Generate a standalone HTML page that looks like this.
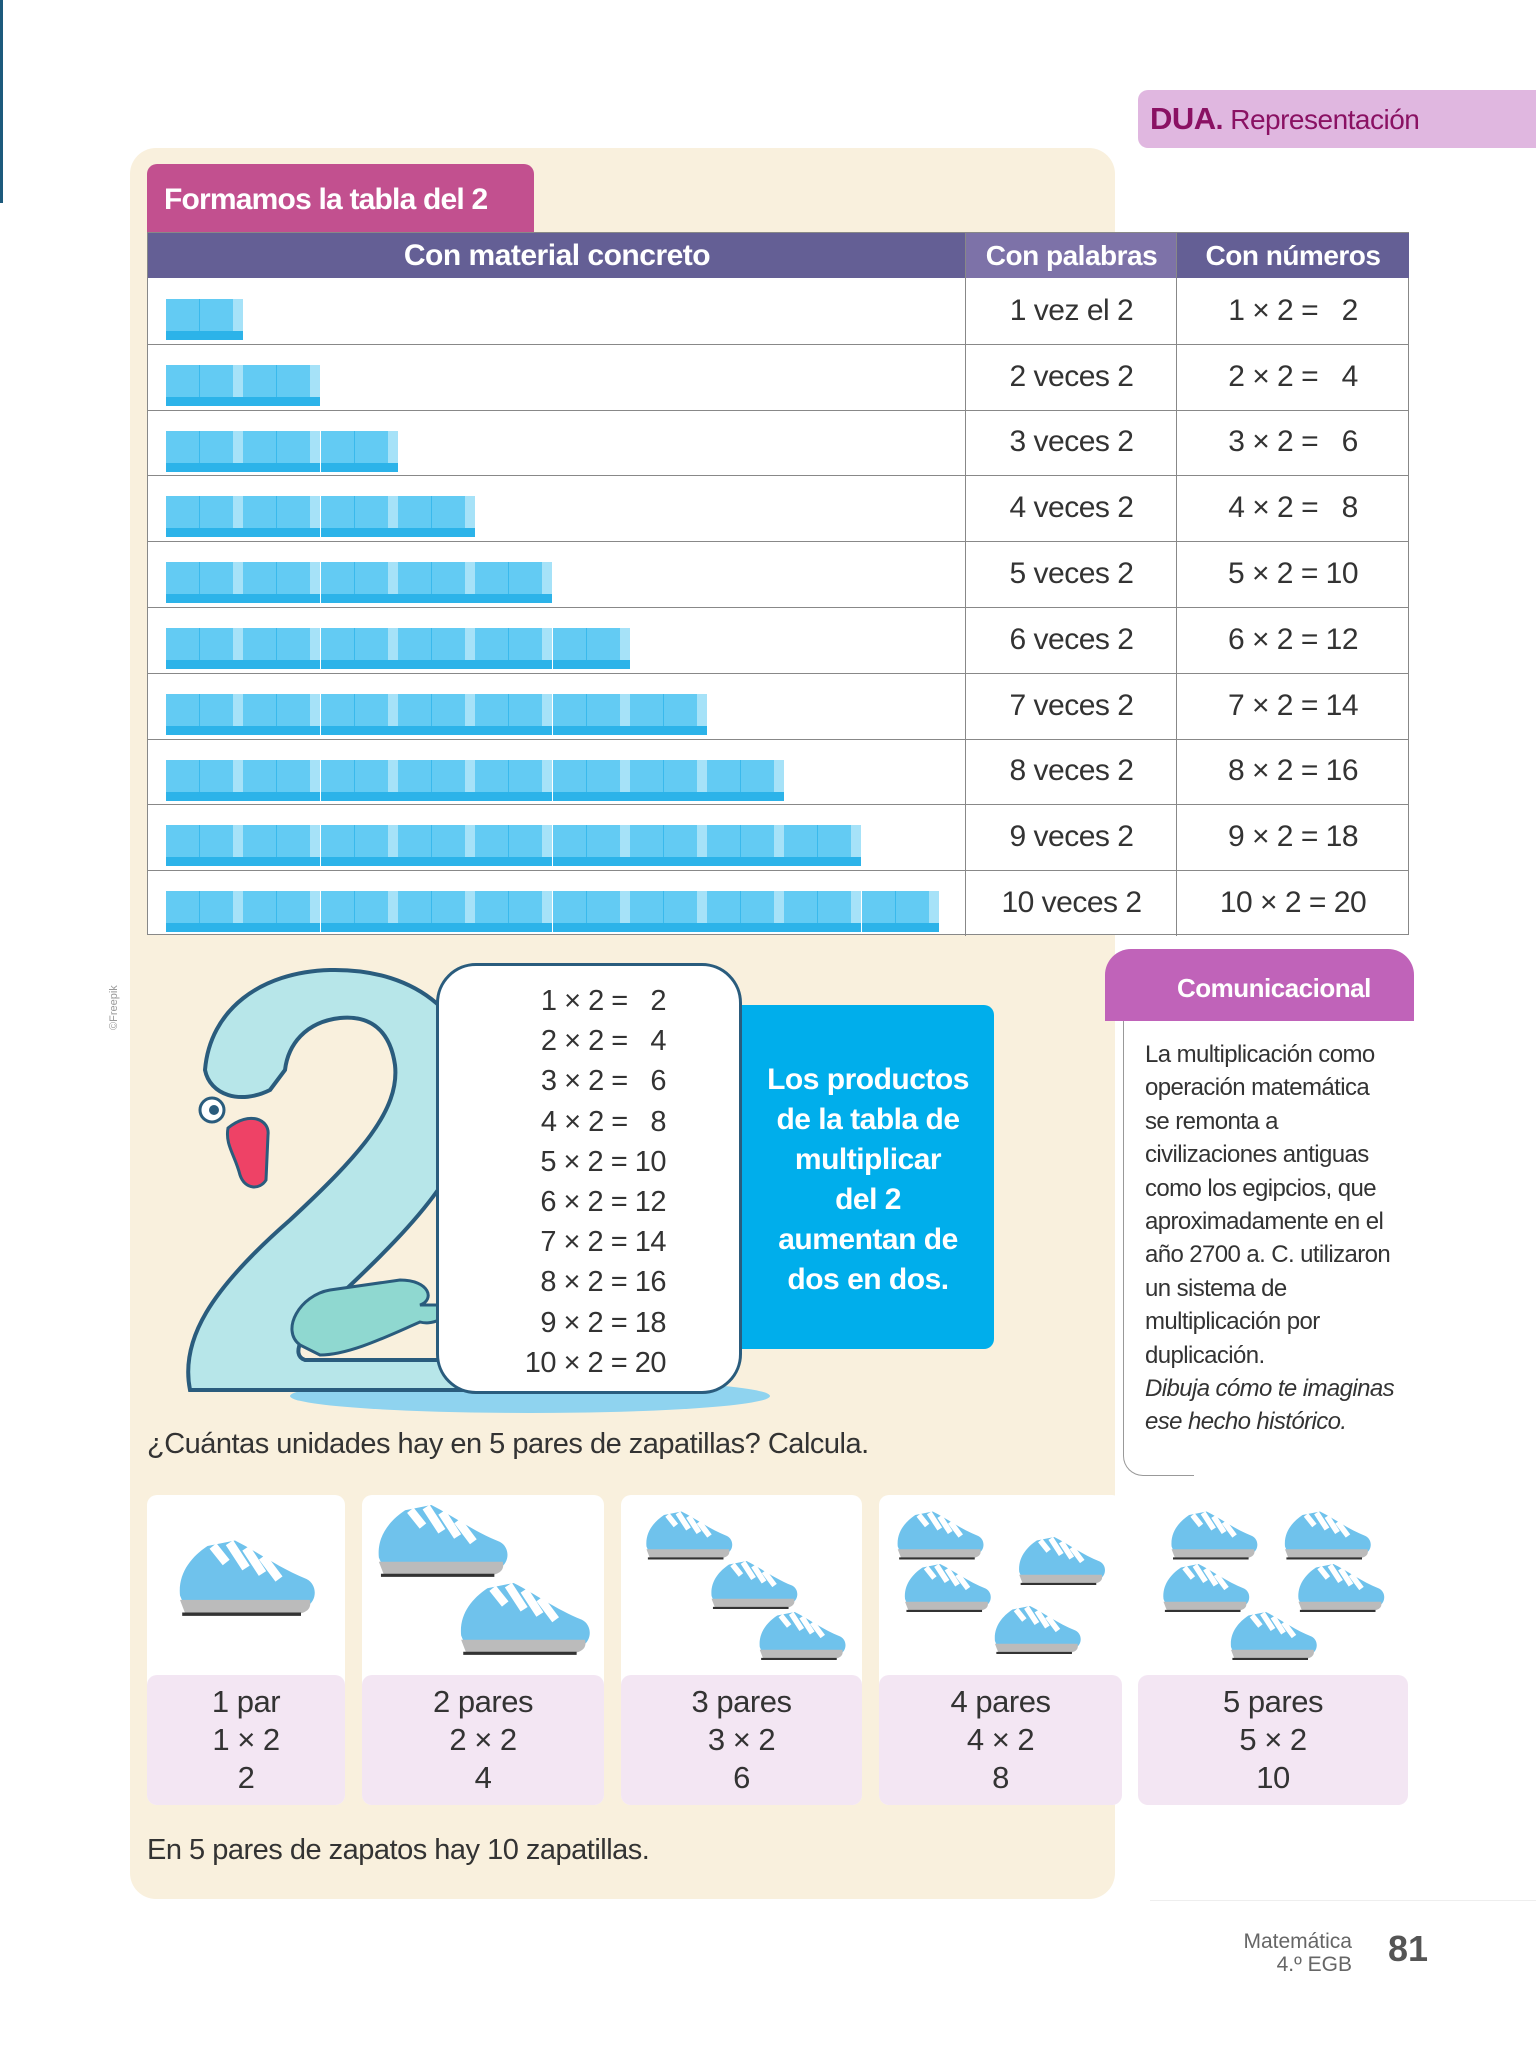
<!DOCTYPE html>
<html><head><meta charset="utf-8">
<style>
body{margin:0;width:1536px;height:2048px;background:#fff;position:relative;overflow:hidden;font-family:"Liberation Sans Narrow","Liberation Sans",sans-serif;color:#333}
.abs{position:absolute}
.cell{position:absolute;display:flex;align-items:center;justify-content:center;font-size:30px;color:#333;white-space:nowrap;letter-spacing:-0.5px}
.card{position:absolute;background:#fff;border-radius:10px}
.lab{position:absolute;background:#f3e6f3;border-radius:10px;text-align:center;font-size:31px;line-height:38px;color:#333;padding-top:8px;box-sizing:border-box;letter-spacing:-0.5px}
.com p{margin:0}
</style></head><body>
<div class="abs" style="left:0;top:0;width:3px;height:203px;background:#1d5a7c"></div>
<div class="abs" style="left:1138px;top:90px;width:398px;height:58px;background:#e0b7e0;border-radius:10px 0 0 10px;font-size:28px;line-height:58px;padding-left:12px;color:#8a1163;box-sizing:border-box;letter-spacing:-0.5px;white-space:nowrap"><b style="font-size:31px">DUA</b><b>.</b> Representación</div>
<div class="abs" style="left:130px;top:148px;width:985px;height:1751px;background:#f9f0dd;border-radius:26px"></div>
<div class="abs" style="left:147px;top:164px;width:387px;height:70px;background:#c2508f;border-radius:10px 10px 0 0;color:#fff;font-weight:bold;font-size:30px;line-height:72px;padding-left:17px;box-sizing:border-box;white-space:nowrap;letter-spacing:-0.8px">Formamos la tabla del 2</div>
<div class="abs" id="table" style="left:147px;top:232px;width:1262px;height:703px;background:#fff;border:1px solid #888;box-sizing:border-box">
<div class="abs" style="left:0;top:0;width:1261px;height:45px;background:#645f95"></div>
<div class="cell" style="left:0;top:0;width:818px;height:45px;color:#fff;font-weight:bold">Con material concreto</div>
<div class="cell" style="left:818px;top:0;width:211px;height:45px;color:#fff;font-weight:bold;background:#7d72a8;font-size:28px">Con palabras</div>
<div class="cell" style="left:1029px;top:0;width:232px;height:45px;color:#fff;font-weight:bold;font-size:28px">Con números</div>
<div class="abs" style="left:817px;top:0;width:1px;height:703px;background:#888"></div>
<div class="abs" style="left:1028px;top:0;width:1px;height:703px;background:#888"></div>
</div>

<svg class="abs" style="left:170px;top:960px" width="600" height="460" viewBox="0 0 600 460">
<ellipse cx="360" cy="436" rx="240" ry="17" fill="#8fd3ef"/>
<path d="M20,430 C10,380 40,330 120,260 C190,195 230,150 225,105 C220,70 200,55 170,58 C135,62 118,85 115,110 L100,130 C70,145 40,135 35,110 C40,50 90,12 160,10 C250,8 305,60 305,130 C305,200 250,260 170,335 C130,372 120,395 135,400 L290,400 C300,390 300,360 296,350 L296,430 Z" fill="#b7e6e9" stroke="#2a5c7d" stroke-width="4"/>
<circle cx="42" cy="150" r="12" fill="#fff" stroke="#2a5c7d" stroke-width="3"/>
<circle cx="44" cy="150" r="5" fill="#2a5c7d"/>
<path d="M58,168 C80,150 100,160 98,175 L96,220 C90,230 75,230 70,215 C65,195 55,185 58,168 Z" fill="#ee4266" stroke="#2a5c7d" stroke-width="3"/>
<path d="M130,385 C110,370 130,335 160,330 L230,320 C260,320 265,340 250,345 L275,345 C280,360 260,365 250,362 C220,375 180,395 150,395 Z" fill="#8fd8d0" stroke="#2a5c7d" stroke-width="3"/>
</svg>
<div class="abs" style="left:436px;top:963px;width:306px;height:431px;background:#fff;border:3px solid #2a5c7d;border-radius:40px;box-sizing:border-box"></div>
<div class="abs" id="plist" style="left:436px;top:981px;width:230px;font-size:29px;line-height:40.2px;text-align:right;color:#333;white-space:nowrap;letter-spacing:-0.5px"></div>
<div class="abs" style="left:742px;top:1005px;width:252px;height:344px;background:#00aeeb;border-radius:0 10px 10px 0;color:#fff;font-weight:bold;font-size:30px;line-height:40px;text-align:center;padding-top:55px;box-sizing:border-box;letter-spacing:-0.5px">Los productos<br>de la tabla de<br>multiplicar<br>del 2<br>aumentan de<br>dos en dos.</div>
<div class="abs" style="left:108px;top:1030px;font-size:11px;color:#999;transform:rotate(-90deg);transform-origin:left top">©Freepik</div>

<div class="abs" style="left:1105px;top:949px;width:309px;height:72px;background:#c063b9;border-radius:26px 26px 0 0;color:#fff;font-weight:bold;font-size:26px;line-height:78px;padding-left:72px;box-sizing:border-box;letter-spacing:-0.5px">Comunicacional</div>
<div class="abs" style="left:1123px;top:1021px;width:70px;height:454px;border-left:1px solid #999;border-bottom:1px solid #999;border-radius:0 0 0 20px"></div>
<div class="abs com" style="left:1145px;top:1038px;width:300px;font-size:24px;line-height:33.4px;color:#333;letter-spacing:-0.6px"><p>La multiplicación como<br>operación matemática<br>se remonta a<br>civilizaciones antiguas<br>como los egipcios, que<br>aproximadamente en el<br>año 2700 a. C. utilizaron<br>un sistema de<br>multiplicación por<br>duplicación.</p><p style="font-style:italic">Dibuja cómo te imaginas<br>ese hecho histórico.</p></div>

<div class="abs" style="left:147px;top:1428px;font-size:29px;color:#333;letter-spacing:-0.5px">¿Cuántas unidades hay en 5 pares de zapatillas? Calcula.</div>
<div id="cards"></div>
<div class="abs" style="left:147px;top:1834px;font-size:29px;color:#333;letter-spacing:-0.5px">En 5 pares de zapatos hay 10 zapatillas.</div>
<div class="abs" style="left:1150px;top:1900px;width:386px;height:1px;background:#eee"></div>
<div class="abs" style="left:1160px;top:1930px;width:192px;text-align:right;font-size:21px;line-height:23px;color:#666">Matemática<br>4.º EGB</div>
<div class="abs" style="left:1388px;top:1928px;font-size:36px;font-weight:bold;color:#555">81</div>

<script>
const counts=[1,2,3,4,5,6,7,8,9,10];
const words=["1 vez el 2","2 veces 2","3 veces 2","4 veces 2","5 veces 2","6 veces 2","7 veces 2","8 veces 2","9 veces 2","10 veces 2"];
const products=[2,4,6,8,10,12,14,16,18,20];
const pairs=[1,2,3,4,5];
const t=document.getElementById('table');
const RH=65.8;
counts.forEach((n,i)=>{
  const y=45+i*RH;
  if(i>0){const l=document.createElement('div');l.className='abs';l.style.cssText=`left:0;top:${y}px;width:1261px;height:1px;background:#888`;
  
  t.appendChild(l);}
  for(let k=0;k<n;k++){
    const b=document.createElement('div');b.className='abs';
    b.style.cssText=`left:${18+k*77.3}px;top:${y+21}px;width:77px;height:41px;background:linear-gradient(to right,#63cbf3 0,#63cbf3 33px,#3ab9ec 33px,#3ab9ec 34px,#63cbf3 34px,#63cbf3 67px,#a6e2f8 67px);border-bottom:9px solid #2cb3e9;box-sizing:border-box`;
    
    t.appendChild(b);
  }
  const w=document.createElement('div');w.className='cell';w.style.cssText=`left:818px;top:${y}px;width:211px;height:${RH}px`;w.textContent=words[i];
  
  t.appendChild(w);
  const m=document.createElement('div');m.className='cell';m.style.cssText=`left:1029px;top:${y}px;width:232px;height:${RH}px;white-space:pre`;
  m.textContent=`${n} × 2 = ${products[i]<10?'  ':''}${products[i]}`;
  
  t.appendChild(m);
});
const pl=document.getElementById('plist');
pl.innerHTML=counts.map((n,i)=>`${n} × 2 = ${products[i]<10?'&nbsp;&nbsp;':''}${products[i]}`).join('<br>');
const cx=[[147,345],[362,604],[621,862],[879,1122],[1138,1408]];
const shoePos=[[[0.5,0.45]],[[0.33,0.2],[0.67,0.72]],[[0.28,0.15],[0.55,0.48],[0.75,0.82]],[[0.25,0.15],[0.75,0.32],[0.28,0.5],[0.65,0.78]],[[0.28,0.15],[0.7,0.15],[0.25,0.5],[0.75,0.5],[0.5,0.82]]];
const cards=document.getElementById('cards');
function shoe(x,y,s){return `<g transform="translate(${x},${y}) scale(${s})"><path d="M-60,10 C-62,-10 -50,-25 -35,-35 L-10,-40 C10,-30 30,-15 55,-5 C65,0 65,15 55,20 L-55,22 Z" fill="#6fc2ec"/><path d="M-30,-35 L-18,-20 M-15,-38 L0,-15 M0,-33 L15,-10 M15,-25 L30,-5" stroke="#fff" stroke-width="8"/><path d="M-60,14 L58,14 C60,22 55,26 45,27 L-55,27 Z" fill="#bbb"/><path d="M-58,27 L50,27" stroke="#333" stroke-width="3"/></g>`}
pairs.forEach((p,i)=>{
  const [x0,x1]=cx[i];const w=x1-x0;
  const c=document.createElement('div');c.className='card';c.style.cssText=`left:${x0}px;top:1495px;width:${w}px;height:310px`;
  
  
  const s=p===1?1.1:p===2?1.05:0.7;
  c.innerHTML=`<svg width="${w}" height="180" style="position:absolute;left:0;top:0">${shoePos[i].map(q=>shoe(q[0]*w,q[1]*150+22,s)).join('')}</svg>`;
  cards.appendChild(c);
  const l=document.createElement('div');l.className='lab';l.style.cssText=`left:${x0}px;top:1675px;width:${w}px;height:130px`;
  l.innerHTML=`${p} ${p===1?'par':'pares'}<br>${p} × 2<br>${p*2}`;
  
  
  cards.appendChild(l);
});
</script>
</body></html>
